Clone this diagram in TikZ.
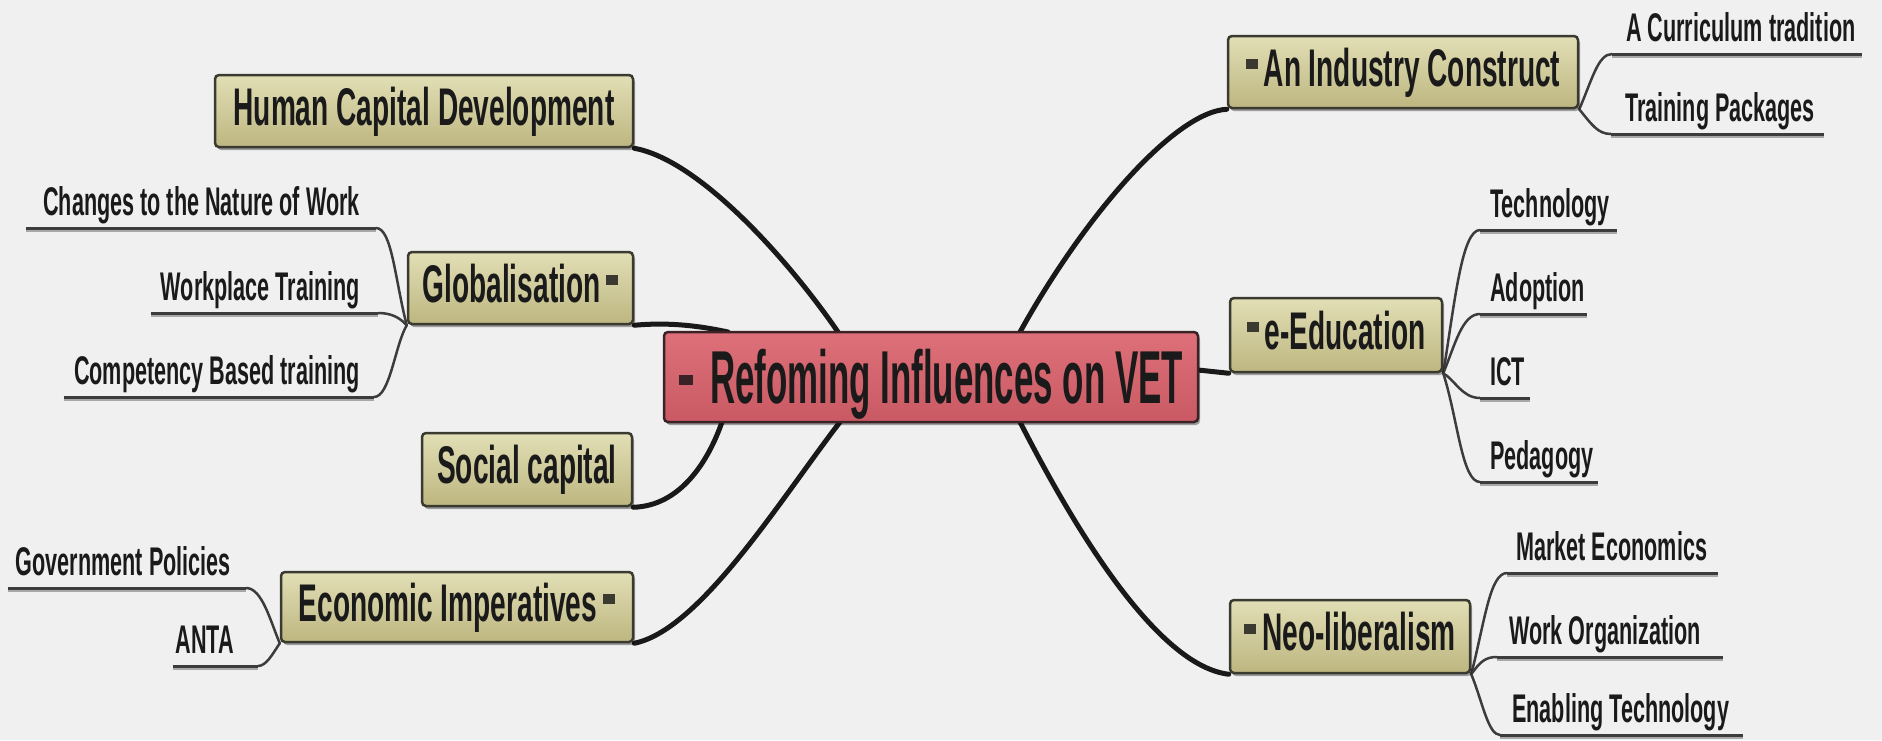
\documentclass[tikz,border=0pt]{standalone}
\usepackage{fontspec}
\usetikzlibrary{shadows,calc}
\newfontfamily\cenfont{Liberation Sans}[FakeStretch=0.465]
\newfontfamily\brfont{Liberation Sans}[FakeStretch=0.53]
\newfontfamily\lffont{Liberation Sans}[FakeStretch=0.54]
\definecolor{bgc}{HTML}{F0F0F0}
\definecolor{khtop}{HTML}{E2DFB6}
\definecolor{khbot}{HTML}{BDB680}
\definecolor{rdtop}{HTML}{DE707A}
\definecolor{rdbot}{HTML}{C95A64}
\definecolor{edgec}{HTML}{3A3A30}
\definecolor{redge}{HTML}{3A2226}
\definecolor{txtc}{HTML}{1A1A1A}
\definecolor{subc}{HTML}{3C3C3C}
\definecolor{shc}{HTML}{A8A8A8}
\pgfdeclarelayer{bg}
\pgfsetlayers{bg,main}
\newcommand\mkb{\textcolor{edgec}{\rule[17pt]{12pt}{10pt}}}
\newcommand\mkc{\textcolor{redge}{\rule[19pt]{14pt}{10pt}}}
\newcommand\leafl[3]{\makebox[#1pt][r]{#3\hspace{#2pt}}}
\newcommand\leafr[3]{\makebox[#1pt][l]{\hspace{#2pt}#3}}
\tikzset{
  box/.style={rectangle, rounded corners=4pt, draw=edgec, line width=2.5pt,
    top color=khtop, bottom color=khbot, inner sep=0pt, minimum height=72pt,
    text=txtc, font=\brfont\bfseries\fontsize{53}{60}\selectfont,
    text height=38pt, text depth=10pt,
    drop shadow={shadow xshift=2pt, shadow yshift=-3pt, opacity=0.35, fill=black}},
  central/.style={box, draw=redge, top color=rdtop, bottom color=rdbot,
    font=\cenfont\bfseries\fontsize{75}{85}\selectfont,
    text height=53pt, text depth=0pt, minimum height=90pt},
  mainline/.style={line width=5pt, draw=black!90, line cap=round},
  subline/.style={line width=2.5pt, draw=subc, line cap=round},
  uline/.style={line width=3pt, draw=subc,
    preaction={draw=shc, line width=3pt, transform canvas={yshift=-2.5pt}}},
  leafL/.style={inner xsep=0pt, inner ysep=0pt, anchor=south east,
    text height=30pt, text depth=12pt, text=txtc,
    font=\lffont\bfseries\fontsize{40}{44}\selectfont},
  leafR/.style={leafL, anchor=south west}
}
\begin{document}
\begin{tikzpicture}[x=1pt,y=-1pt]
\useasboundingbox (0,0) rectangle (1882,740);
\begin{pgfonlayer}{bg}
\fill[bgc] (0,0) rectangle (1882,740);
\end{pgfonlayer}

% central and branch nodes
\node[central, minimum width=534pt] (c) at (931,377) {\mkc\hspace{17pt}Refoming Influences on VET};
\node[box, minimum width=418pt] (hcd) at (424,111) {Human Capital Development};
\node[box, minimum width=225pt] (glob) at (520.5,288) {Globalisation\hspace{6pt}\mkb};
\node[box, minimum width=210pt, minimum height=73pt] (soc) at (527,469.5) {Social capital};
\node[box, minimum width=352pt, minimum height=70pt] (econ) at (457,607) {Economic Imperatives\hspace{6pt}\mkb};
\node[box, minimum width=350pt] (ind) at (1403,72) {\mkb\hspace{6pt}An Industry Construct};
\node[box, minimum width=212pt, minimum height=74pt] (edu) at (1336,335) {\mkb\hspace{6pt}e-Education};
\node[box, minimum width=240pt, minimum height=73pt] (neo) at (1350,636.5) {\mkb\hspace{6pt}Neo-liberalism};

% leaves, left side
\node[leafL] (g1) at (376,228) {\leafl{350}{16}{Changes to the Nature of Work}};
\node[leafL] (g2) at (378,313) {\leafl{227}{18}{Workplace Training}};
\node[leafL] (g3) at (374,397) {\leafl{310}{14}{Competency Based training}};
\node[leafL] (e1) at (246,588) {\leafl{238}{15}{Government Policies}};
\node[leafL] (e2) at (258,666) {\leafl{85}{24}{ANTA}};

% leaves, right side
\node[leafR] (i1) at (1612,54) {\leafr{250}{14}{A Curriculum tradition}};
\node[leafR] (i2) at (1611,134) {\leafr{213}{14}{Training Packages}};
\node[leafR] (t1) at (1480,230) {\leafr{137}{10}{Technology}};
\node[leafR] (t2) at (1480,314) {\leafr{107}{10}{Adoption}};
\node[leafR] (t3) at (1480,398) {\leafr{50}{10}{ICT}};
\node[leafR] (t4) at (1480,482) {\leafr{118}{10}{Pedagogy}};
\node[leafR] (n1) at (1507,573) {\leafr{211}{9}{Market Economics}};
\node[leafR] (n2) at (1497,657) {\leafr{226}{12}{Work Organization}};
\node[leafR] (n3) at (1500,735) {\leafr{243}{12}{Enabling Technology}};

% attachment points on the central node
\coordinate (cN1) at (838,332);
\coordinate (cGl) at (728,332);
\coordinate (cSo) at (722,422);
\coordinate (cS1) at (840,422);
\coordinate (cN2) at (1020,332);
\coordinate (cE) at (1198,370);
\coordinate (cS2) at (1020,422);

\begin{pgfonlayer}{bg}
% main connectors
\draw[mainline] (hcd.south east) .. controls (700,160) and (790,262) .. (cN1);
\draw[mainline] (glob.south east) .. controls (670,322) and (700,326) .. (cGl);
\draw[mainline] (soc.south east) .. controls (680,506) and (708,462) .. (cSo);
\draw[mainline] (econ.south east) .. controls (700,630) and (780,500) .. (cS1);
\draw[mainline] (ind.south west) .. controls (1175,112) and (1085,215) .. (cN2);
\draw[mainline] (cE) -- (edu.south west);
\draw[mainline] (cS2) .. controls (1060,500) and (1150,665) .. (neo.south west);

% underlines
\foreach \n in {g1,g2,g3,e1,e2,i1,i2,t1,t2,t3,t4,n1,n2,n3}
  \draw[uline] (\n.south west) -- (\n.south east);

% sub connectors
\draw[subline] (glob.south west) .. controls (395,280) and (392,228) .. (g1.south east);
\draw[subline] (glob.south west) .. controls (400,318) and (392,313) .. (g2.south east);
\draw[subline] (glob.south west) .. controls (395,345) and (390,397) .. (g3.south east);
\draw[subline] (econ.south west) .. controls (270,620) and (262,588) .. (e1.south east);
\draw[subline] (econ.south west) .. controls (272,655) and (266,666) .. (e2.south east);
\draw[subline] (ind.south east) .. controls (1592,80) and (1598,54) .. (i1.south west);
\draw[subline] (ind.south east) .. controls (1592,125) and (1598,134) .. (i2.south west);
\draw[subline] (edu.south east) .. controls (1455,300) and (1462,230) .. (t1.south west);
\draw[subline] (edu.south east) .. controls (1455,345) and (1462,314) .. (t2.south west);
\draw[subline] (edu.south east) .. controls (1455,380) and (1462,398) .. (t3.south west);
\draw[subline] (edu.south east) .. controls (1458,420) and (1462,482) .. (t4.south west);
\draw[subline] (neo.south east) .. controls (1485,620) and (1490,573) .. (n1.south west);
\draw[subline] (neo.south east) .. controls (1480,662) and (1485,657) .. (n2.south west);
\draw[subline] (neo.south east) .. controls (1482,700) and (1488,735) .. (n3.south west);
\end{pgfonlayer}
\end{tikzpicture}
\end{document}
